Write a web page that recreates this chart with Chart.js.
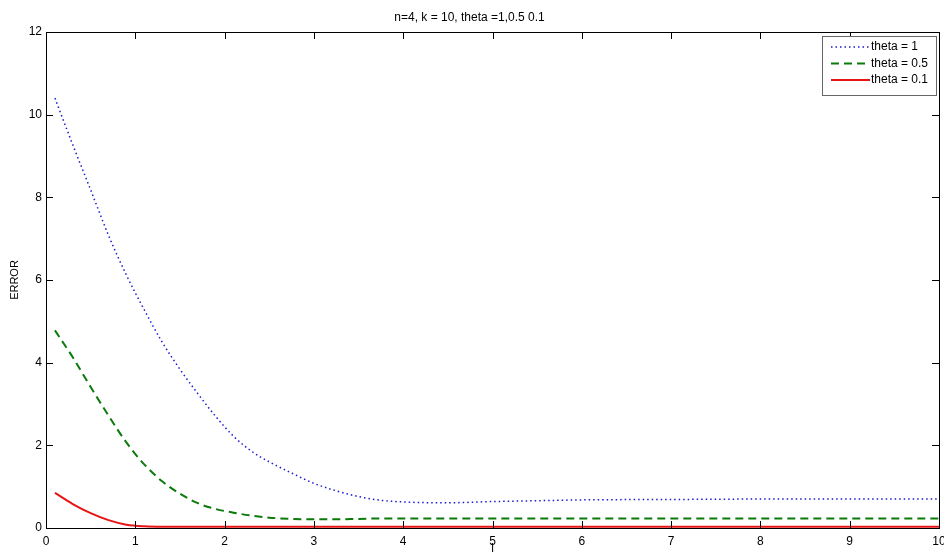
<!DOCTYPE html>
<html>
<head>
<meta charset="utf-8">
<script src="https://cdn.jsdelivr.net/npm/chart.js@4/dist/chart.umd.min.js"></script>
<style>
  body { margin: 0; background: #fff; }
  canvas { display: block; }
</style>
</head>
<body>
<canvas id="chartCanvas" width="944" height="556"></canvas>
<script>
// values
const tValues = [0.1, 0.3, 0.5, 0.7, 0.9, 1.1, 1.3, 1.5, 1.7, 1.9, 2.1, 2.3, 2.5, 2.75, 3, 3.25, 3.5, 3.75, 4, 4.5, 5, 5.5, 6, 7, 8, 9, 10];
const theta1 = [10.4, 9.27, 8.18, 7.08, 6.12, 5.28, 4.5, 3.84, 3.25, 2.7, 2.22, 1.86, 1.6, 1.33, 1.08, 0.9, 0.76, 0.67, 0.63, 0.61, 0.64, 0.66, 0.68, 0.69, 0.7, 0.7, 0.7];
const theta05 = [4.78, 4.13, 3.41, 2.72, 2.07, 1.54, 1.13, 0.83, 0.6, 0.46, 0.37, 0.3, 0.25, 0.22, 0.21, 0.21, 0.22, 0.23, 0.23, 0.23, 0.23, 0.23, 0.23, 0.23, 0.23, 0.23, 0.23];
const theta01 = [0.85, 0.58, 0.36, 0.19, 0.08, 0.04, 0.03, 0.03, 0.03, 0.03, 0.03, 0.03, 0.03, 0.03, 0.03, 0.03, 0.03, 0.03, 0.03, 0.03, 0.03, 0.03, 0.03, 0.03, 0.03, 0.03, 0.03];
const seriesNames = ['theta = 1', 'theta = 0.5', 'theta = 0.1'];
const xTicks = [0, 1, 2, 3, 4, 5, 6, 7, 8, 9, 10];
const yTicks = [0, 2, 4, 6, 8, 10, 12];

const FONT = "'Liberation Sans', Arial, sans-serif";

function toPoints(ys) {
    return tValues.map((t, i) => ({x: t, y: ys[i]}));
}

// MATLAB style box: frame, inward ticks on all sides, legend in the corner
const matlabBox = {
    id: 'matlabBox',
    afterDraw(chart) {
        const {ctx, chartArea: a, scales: {x, y}} = chart;
        ctx.save();
        ctx.strokeStyle = '#000';
        ctx.lineWidth = 1;
        ctx.strokeRect(a.left + 0.5, a.top + 0.5, a.right - a.left, a.bottom - a.top);
        ctx.beginPath();
        xTicks.forEach(v => {
            const px = Math.round(x.getPixelForValue(v)) + 0.5;
            ctx.moveTo(px, a.bottom); ctx.lineTo(px, a.bottom - 7);
            ctx.moveTo(px, a.top); ctx.lineTo(px, a.top + 7);
        });
        yTicks.forEach(v => {
            const py = Math.round(y.getPixelForValue(v)) + 0.5;
            ctx.moveTo(a.left, py); ctx.lineTo(a.left + 7, py);
            ctx.moveTo(a.right, py); ctx.lineTo(a.right - 7, py);
        });
        ctx.stroke();

        // legend
        const bw = 114, bh = 59;
        const bx = a.right - bw - 3, by = a.top + 4;
        ctx.fillStyle = '#fff';
        ctx.fillRect(bx, by, bw, bh);
        ctx.strokeStyle = '#666';
        ctx.strokeRect(bx + 0.5, by + 0.5, bw, bh);
        ctx.font = '12px ' + FONT;
        ctx.textBaseline = 'middle';
        chart.data.datasets.forEach((ds, i) => {
            const ly = by + 11 + i * 16.5;
            ctx.beginPath();
            ctx.strokeStyle = ds.borderColor;
            ctx.lineWidth = ds.borderWidth;
            ctx.setLineDash(ds.borderDash || []);
            ctx.moveTo(bx + 9, ly);
            ctx.lineTo(bx + 48, ly);
            ctx.stroke();
            ctx.setLineDash([]);
            ctx.fillStyle = '#000';
            ctx.fillText(ds.label, bx + 49, ly);
        });
        ctx.restore();
    }
};

const ctx = document.getElementById('chartCanvas');
window.myChart = new Chart(ctx, {
    type: 'line',
    data: {
        datasets: [{
            label: seriesNames[0],
            data: toPoints(theta1),
            borderColor: '#1a1ad0',
            borderWidth: 1.5,
            borderDash: [1.5, 3],
            pointRadius: 0,
            cubicInterpolationMode: 'monotone'
        }, {
            label: seriesNames[1],
            data: toPoints(theta05),
            borderColor: '#0a7a0a',
            borderWidth: 2,
            borderDash: [8, 5],
            pointRadius: 0,
            cubicInterpolationMode: 'monotone'
        }, {
            label: seriesNames[2],
            data: toPoints(theta01),
            borderColor: '#e81414',
            borderWidth: 2,
            pointRadius: 0,
            cubicInterpolationMode: 'monotone'
        }]
    },
    options: {
        responsive: false,
        animation: false,
        layout: { padding: { left: 0, right: 5, top: 0, bottom: 0 } },
        plugins: {
            legend: { display: false },
            tooltip: { enabled: false },
            title: {
                display: true,
                text: 'n=4, k = 10, theta =1,0.5 0.1',
                color: '#000',
                font: { family: FONT, size: 12, weight: 'normal' },
                padding: { top: 10, bottom: 7.6 }
            }
        },
        scales: {
            x: {
                type: 'linear',
                min: 0,
                max: 10,
                afterFit: s => { s.height = 28; s.paddingLeft = 0; s.paddingRight = 0; },
                afterBuildTicks: s => { s.ticks = xTicks.map(v => ({value: v})); },
                grid: { display: false, drawTicks: false },
                border: { display: false },
                ticks: { color: '#000', padding: 6, maxRotation: 0, font: { family: FONT, size: 12 } },
                title: { display: true, text: 'l', color: '#000', padding: { top: 0, bottom: 0 }, font: { family: FONT, size: 12 } }
            },
            y: {
                min: 0,
                max: 12,
                afterFit: s => { s.width = 46; s.paddingTop = 0; s.paddingBottom = 0; },
                afterBuildTicks: s => { s.ticks = yTicks.map(v => ({value: v})); },
                grid: { display: false, drawTicks: false },
                border: { display: false },
                ticks: { color: '#000', padding: 4, font: { family: FONT, size: 12 } },
                title: { display: true, text: 'ERROR', color: '#000', padding: { top: 8, bottom: 0 }, font: { family: FONT, size: 11 } }
            }
        }
    },
    plugins: [matlabBox]
});
</script>
</body>
</html>
